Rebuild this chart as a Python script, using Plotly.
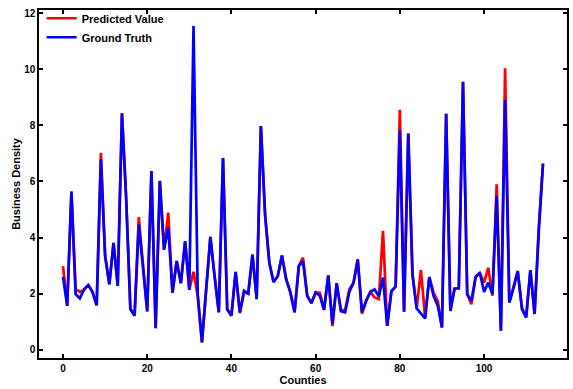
import plotly.graph_objects as go

# Business density per county: model prediction vs. observed value
counties = list(range(115))

ground_truth = [
    2.60, 1.56, 5.64, 1.98, 1.83, 2.15, 2.30, 2.06, 1.58, 6.79,
    3.33, 2.33, 3.81, 2.27, 8.42, 5.40, 1.44, 1.21, 4.46, 2.92,
    1.38, 6.37, 0.76, 6.02, 3.57, 4.36, 2.03, 3.16, 2.37, 3.87,
    2.14, 11.55, 1.95, 0.26, 2.15, 4.02, 2.62, 1.33, 6.84, 1.44,
    1.21, 2.77, 1.33, 2.10, 2.00, 3.39, 1.80, 7.98, 4.80, 3.10,
    2.41, 2.62, 3.36, 2.51, 2.04, 1.33, 2.98, 3.16, 1.92, 1.66,
    2.04, 1.92, 1.42, 2.65, 0.91, 2.37, 1.37, 1.33, 2.06, 2.39,
    3.22, 1.33, 1.74, 2.06, 2.15, 1.90, 2.57, 0.85, 2.09, 2.25,
    7.83, 1.35, 7.71, 2.68, 1.47, 1.27, 1.11, 2.59, 1.92, 1.57,
    0.79, 8.42, 1.38, 2.18, 2.19, 9.56, 1.98, 1.74, 2.59, 2.74,
    2.06, 2.39, 1.98, 5.49, 0.67, 8.91, 1.68, 2.20, 2.80, 1.44,
    1.15, 2.84, 1.27, 4.20, 6.64,
]

predicted = [
    2.98, 1.56, 5.64, 2.16, 2.06, 2.12, 2.30, 2.06, 1.58, 7.02,
    3.36, 2.33, 3.81, 2.27, 8.44, 5.40, 1.47, 1.21, 4.73, 2.92,
    1.35, 6.37, 0.76, 6.02, 3.57, 4.89, 2.03, 3.16, 2.37, 3.87,
    2.14, 2.78, 1.90, 0.26, 2.15, 4.02, 2.62, 1.33, 6.84, 1.44,
    1.21, 2.77, 1.30, 2.05, 2.00, 3.39, 1.80, 7.98, 4.80, 3.10,
    2.41, 2.62, 3.36, 2.51, 2.04, 1.33, 2.98, 3.28, 1.92, 1.66,
    2.04, 2.03, 1.42, 2.65, 0.84, 2.37, 1.42, 1.40, 2.15, 2.39,
    3.22, 1.28, 1.74, 2.06, 1.86, 1.80, 4.24, 0.85, 2.09, 2.25,
    8.56, 1.35, 7.71, 2.68, 1.47, 2.84, 1.15, 2.59, 2.03, 1.74,
    0.79, 8.42, 1.38, 2.18, 2.19, 9.56, 1.98, 1.62, 2.59, 2.74,
    2.39, 2.92, 1.92, 5.90, 0.67, 10.04, 1.68, 2.20, 2.80, 1.50,
    1.15, 2.84, 1.27, 4.40, 6.64,
]

x_ticks = [0, 20, 40, 60, 80, 100]
y_ticks = [0, 2, 4, 6, 8, 10, 12]

FONT = "Liberation Sans, Arial, Helvetica, sans-serif"

fig = go.Figure()
fig.add_trace(go.Scatter(
    x=counties, y=predicted, mode="lines", name="Predicted Value",
    line=dict(color="#ff0000", width=2.7),
))
fig.add_trace(go.Scatter(
    x=counties, y=ground_truth, mode="lines", name="Ground Truth",
    line=dict(color="#0000ff", width=2.7),
))

axis_common = dict(
    showline=True, linecolor="black", linewidth=1.5, mirror="ticks",
    ticks="inside", ticklen=4, tickwidth=1.5, tickcolor="black",
    showgrid=False, zeroline=False,
    tickfont=dict(family=FONT, size=10, color="black", weight="bold"),
)

fig.update_layout(
    width=573, height=389,
    margin=dict(l=39, r=4, t=10, b=30),
    paper_bgcolor="white", plot_bgcolor="white",
    showlegend=True,
    legend=dict(
        x=0.005, y=1.018, xanchor="left", yanchor="top",
        bgcolor="rgba(0,0,0,0)", borderwidth=0,
        font=dict(family=FONT, size=11, color="black", weight="bold"),
        tracegroupgap=0, itemwidth=30,
    ),
    xaxis=dict(
        range=[-5.7, 119.7], tickvals=x_ticks,
        title=dict(text="Counties", standoff=4,
                   font=dict(family=FONT, size=11, color="black", weight="bold")),
        **axis_common,
    ),
    yaxis=dict(
        range=[-0.3, 12.12], tickvals=y_ticks,
        title=dict(text="Business Density", standoff=1,
                   font=dict(family=FONT, size=11, color="black", weight="bold")),
        **axis_common,
    ),
)

fig.write_html("out.html")
